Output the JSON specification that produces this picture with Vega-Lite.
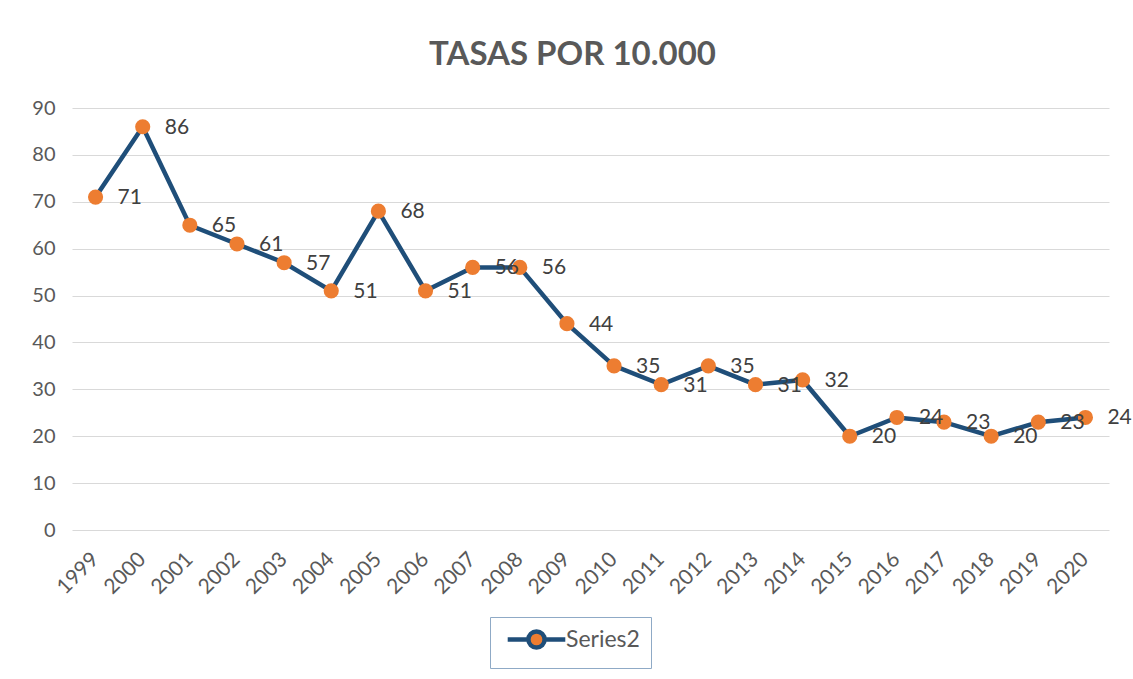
{
  "$schema": "https://vega.github.io/schema/vega-lite/v6.json",
  "width": 1037,
  "height": 422,
  "autosize": {"type": "none"},
  "padding": {"left": 72, "top": 108, "right": 24, "bottom": 149},
  "background": "white",
  "title": {
    "text": "TASAS POR 10.000",
    "font": "Lato",
    "fontSize": 33,
    "fontWeight": "bold",
    "color": "#595959",
    "anchor": "middle",
    "baseline": "alphabetic",
    "dx": -18,
    "offset": 0
  },
  "config": {
    "view": {"stroke": null},
    "font": "Lato"
  },
  "data": {
    "values": [
      {"year": "1999", "value": 71, "series": "Series2"},
      {"year": "2000", "value": 86, "series": "Series2"},
      {"year": "2001", "value": 65, "series": "Series2"},
      {"year": "2002", "value": 61, "series": "Series2"},
      {"year": "2003", "value": 57, "series": "Series2"},
      {"year": "2004", "value": 51, "series": "Series2"},
      {"year": "2005", "value": 68, "series": "Series2"},
      {"year": "2006", "value": 51, "series": "Series2"},
      {"year": "2007", "value": 56, "series": "Series2"},
      {"year": "2008", "value": 56, "series": "Series2"},
      {"year": "2009", "value": 44, "series": "Series2"},
      {"year": "2010", "value": 35, "series": "Series2"},
      {"year": "2011", "value": 31, "series": "Series2"},
      {"year": "2012", "value": 35, "series": "Series2"},
      {"year": "2013", "value": 31, "series": "Series2"},
      {"year": "2014", "value": 32, "series": "Series2"},
      {"year": "2015", "value": 20, "series": "Series2"},
      {"year": "2016", "value": 24, "series": "Series2"},
      {"year": "2017", "value": 23, "series": "Series2"},
      {"year": "2018", "value": 20, "series": "Series2"},
      {"year": "2019", "value": 23, "series": "Series2"},
      {"year": "2020", "value": 24, "series": "Series2"}
    ]
  },
  "encoding": {
    "x": {
      "field": "year",
      "type": "ordinal",
      "scale": {"type": "band", "paddingInner": 0, "paddingOuter": 0},
      "axis": {
        "title": null,
        "labelAngle": -45,
        "labelAlign": "right",
        "labelBaseline": "middle",
        "labelFontSize": 21,
        "labelColor": "#595959",
        "labelPadding": 26,
        "ticks": false,
        "domain": false,
        "grid": false
      }
    },
    "y": {
      "field": "value",
      "type": "quantitative",
      "scale": {"domain": [0, 90], "nice": false},
      "axis": {
        "title": null,
        "values": [0, 10, 20, 30, 40, 50, 60, 70, 80, 90],
        "labelFontSize": 20,
        "labelColor": "#595959",
        "labelPadding": 17,
        "ticks": false,
        "domain": false,
        "gridColor": "#d9d9d9",
        "gridWidth": 1
      }
    }
  },
  "layer": [
    {
      "mark": {"type": "line", "strokeWidth": 4.5},
      "encoding": {
        "stroke": {
          "field": "series",
          "type": "nominal",
          "scale": {"domain": ["Series2"], "range": ["#1F4E79"]},
          "legend": {
            "title": null,
            "orient": "none",
            "legendX": 418,
            "legendY": 509,
            "symbolType": "M-3.2,0L-0.95,0M0.95,0L3.2,0M-0.9,0A0.9,0.9 0 1 1 0.9,0A0.9,0.9 0 1 1 -0.9,0Z",
            "symbolSize": 324,
            "symbolStrokeWidth": 4.5,
            "symbolFillColor": "#ED7D31",
            "symbolOffset": 24,
            "labelFontSize": 23,
            "labelColor": "#595959",
            "labelOffset": 18,
            "strokeColor": "#8FAAC6",
            "padding": 11,
            "fillColor": "white"
          }
        }
      }
    },
    {
      "mark": {"type": "point", "filled": true, "size": 230, "opacity": 1, "color": "#ED7D31"}
    },
    {
      "mark": {"type": "text", "align": "left", "baseline": "middle", "dx": 22, "dy": 1, "fontSize": 21, "color": "#404040"},
      "encoding": {"text": {"field": "value", "type": "quantitative"}}
    }
  ]
}
